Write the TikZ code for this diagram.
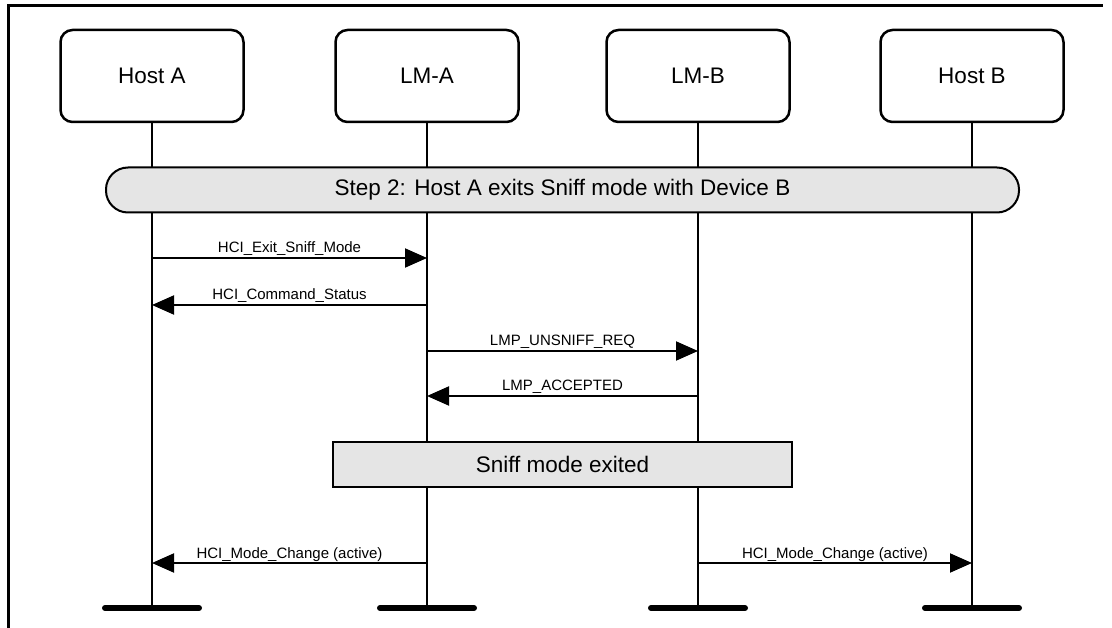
\documentclass[tikz,border=0pt]{standalone}
\usepackage{fontspec}
\setmainfont{Liberation Sans}
\usetikzlibrary{arrows.meta}

\begin{document}
\begin{tikzpicture}[x=1pt,y=-1pt,
  entity/.style={draw,line width=2.5pt,rounded corners=12pt,minimum width=183pt,minimum height=92pt,inner sep=0pt,font=\fontsize{22.5}{26}\selectfont},
  life/.style={line width=2pt},
  msg/.style={line width=2pt,-{Triangle[length=22pt,width=19pt]}},
  lbl/.style={midway,anchor=base,yshift=5pt,inner sep=0pt,font=\fontsize{15}{18}\selectfont},
  band/.style={draw,line width=2pt,fill=gray!20,minimum height=45pt,inner sep=0pt,font=\fontsize{22.5}{26}\selectfont},
  foot/.style={line width=6pt,line cap=round}]
\path[use as bounding box] (0,0) rectangle (1112,628);
% frame
\draw[line width=3pt] (8,628) -- (8,6) -- (1103,6);
% entities
\node[entity] (hostA) at (152,76) {Host A};
\node[entity] (lmA) at (427,76) {LM-A};
\node[entity] (lmB) at (698,76) {LM-B};
\node[entity] (hostB) at (972,76) {Host B};
\coordinate (hostAend) at (152,608);
\coordinate (lmAend) at (427,608);
\coordinate (lmBend) at (698,608);
\coordinate (hostBend) at (972,608);
\draw[life] (hostA) -- (hostAend);
\draw[life] (lmA) -- (lmAend);
\draw[life] (lmB) -- (lmBend);
\draw[life] (hostB) -- (hostBend);
\foreach \e in {hostAend,lmAend,lmBend,hostBend}
  \draw[foot] ([xshift=-47pt]\e) -- ([xshift=47pt]\e);
% step
\node[band,rounded corners=22pt,minimum width=913pt] (step) at (562.5,190) {Step 2: Host A exits Sniff mode with Device B};
% messages
\draw[msg] (hostA |- 0,258) -- node[lbl]{HCI\_Exit\_Sniff\_Mode} (lmA |- 0,258);
\draw[msg] (lmA |- 0,305) -- node[lbl]{HCI\_Command\_Status} (hostA |- 0,305);
\draw[msg] (lmA |- 0,351) -- node[lbl]{LMP\_UNSNIFF\_REQ} (lmB |- 0,351);
\draw[msg] (lmB |- 0,396) -- node[lbl]{LMP\_ACCEPTED} (lmA |- 0,396);
\node[band,minimum width=459pt] (exited) at (562.5,464.5) {Sniff mode exited};
\draw[msg] (lmA |- 0,563) -- node[lbl]{HCI\_Mode\_Change (active)} (hostA |- 0,563);
\draw[msg] (lmB |- 0,563) -- node[lbl]{HCI\_Mode\_Change (active)} (hostB |- 0,563);
\end{tikzpicture}
\end{document}
